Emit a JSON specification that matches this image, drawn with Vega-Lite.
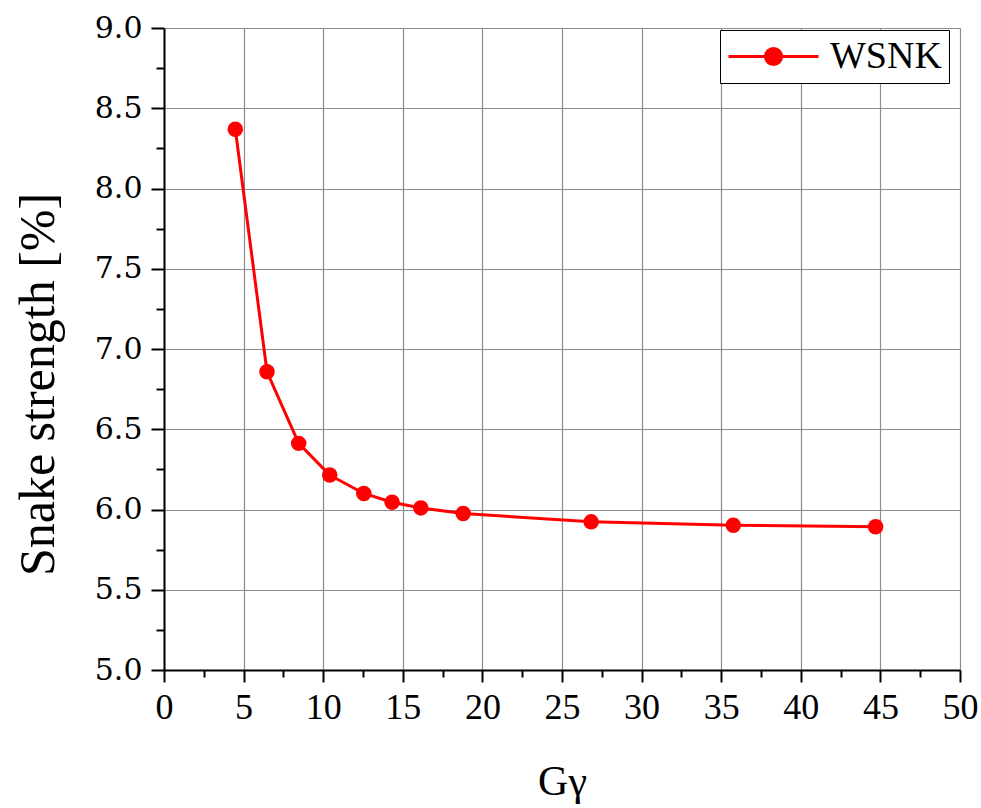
{
  "$schema": "https://vega.github.io/schema/vega-lite/v6.json",
  "autosize": "none",
  "width": 796,
  "height": 642,
  "padding": {"left": 164, "top": 28, "right": 21, "bottom": 138},
  "background": "white",
  "config": {
    "view": {"stroke": null},
    "axis": {
      "domainColor": "black",
      "domainWidth": 2,
      "tickColor": "black",
      "tickWidth": 2,
      "gridColor": "#8c8c8c",
      "gridWidth": 1.2,
      "labelColor": "black",
      "titleColor": "black",
      "titleFontWeight": "normal"
    }
  },
  "data": {
    "values": [
      {"g": 4.48, "s": 8.369, "series": "WSNK"},
      {"g": 6.47, "s": 6.858, "series": "WSNK"},
      {"g": 8.46, "s": 6.412, "series": "WSNK"},
      {"g": 10.41, "s": 6.215, "series": "WSNK"},
      {"g": 12.55, "s": 6.100, "series": "WSNK"},
      {"g": 14.33, "s": 6.045, "series": "WSNK"},
      {"g": 16.13, "s": 6.010, "series": "WSNK"},
      {"g": 18.79, "s": 5.975, "series": "WSNK"},
      {"g": 26.83, "s": 5.923, "series": "WSNK"},
      {"g": 35.76, "s": 5.902, "series": "WSNK"},
      {"g": 44.70, "s": 5.892, "series": "WSNK"}
    ]
  },
  "encoding": {
    "x": {
      "field": "g",
      "type": "quantitative",
      "scale": {"domain": [0, 50], "nice": false, "zero": false},
      "axis": {
        "title": "Gγ",
        "titleFont": "Liberation Serif",
        "titleFontSize": 42,
        "titlePadding": 36,
        "values": [0, 2.5, 5, 7.5, 10, 12.5, 15, 17.5, 20, 22.5, 25, 27.5, 30, 32.5, 35, 37.5, 40, 42.5, 45, 47.5, 50],
        "labelExpr": "datum.value % 5 === 0 ? datum.label : ''",
        "labelFont": "Liberation Serif",
        "labelFontSize": 36,
        "labelPadding": 8,
        "labelFlush": false,
        "labelOverlap": false,
        "tickSize": {"condition": {"test": "datum.value % 5 === 0", "value": 12}, "value": 7},
        "gridOpacity": {"condition": {"test": "datum.value % 5 === 0", "value": 1}, "value": 0}
      }
    },
    "y": {
      "field": "s",
      "type": "quantitative",
      "scale": {"domain": [5, 9], "nice": false, "zero": false},
      "axis": {
        "title": "Snake strength [%]",
        "titleFont": "Liberation Serif",
        "titleFontSize": 50,
        "titlePadding": 31,
        "titleY": 356,
        "values": [5, 5.25, 5.5, 5.75, 6, 6.25, 6.5, 6.75, 7, 7.25, 7.5, 7.75, 8, 8.25, 8.5, 8.75, 9],
        "format": ".1f",
        "labelExpr": "(datum.value * 2) % 1 === 0 ? datum.label : ''",
        "labelFont": "DejaVu Serif",
        "labelFontSize": 30,
        "labelPadding": 9,
        "labelFlush": false,
        "labelOverlap": false,
        "tickSize": {"condition": {"test": "(datum.value * 2) % 1 === 0", "value": 13}, "value": 8},
        "gridOpacity": {"condition": {"test": "(datum.value * 2) % 1 === 0", "value": 1}, "value": 0}
      }
    }
  },
  "layer": [
    {
      "mark": {"type": "line", "strokeWidth": 3},
      "encoding": {
        "color": {
          "field": "series",
          "type": "nominal",
          "scale": {"range": ["#ff0000"]},
          "legend": {
            "title": null,
            "orient": "none",
            "legendX": 556,
            "legendY": 2,
            "padding": 7,
            "strokeColor": "black",
            "fillColor": "white",
            "symbolType": "M-1,0L4,0M1.95,0A0.45,0.45 0 1,1 1.05,0A0.45,0.45 0 1,1 1.95,0Z",
            "symbolSize": 1296,
            "symbolStrokeWidth": 3,
            "labelFont": "Liberation Serif",
            "labelFontSize": 38,
            "labelColor": "black",
            "labelOffset": 64,
            "encode": {
              "symbols": {"update": {"fill": {"value": "#ff0000"}, "stroke": {"value": "#ff0000"}, "strokeWidth": {"value": 3}}}
            }
          }
        }
      }
    },
    {
      "mark": {"type": "point", "filled": true, "size": 240, "opacity": 1, "color": "#ff0000"}
    }
  ]
}
